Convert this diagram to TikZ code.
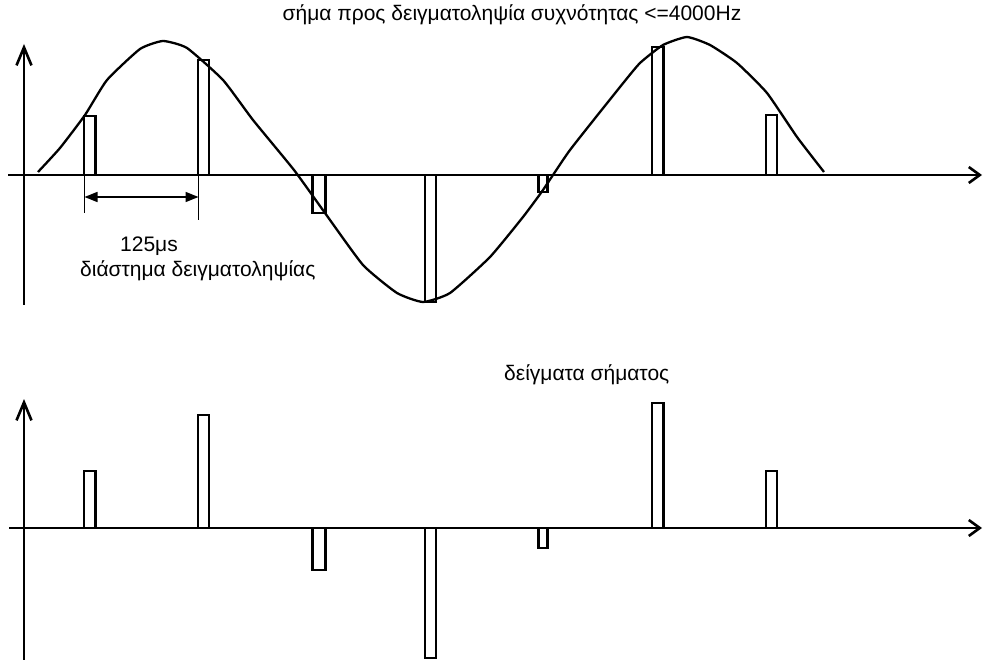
\documentclass[tikz,border=0pt]{standalone}
\usepackage{fontspec}
\setmainfont{Liberation Sans}
\usetikzlibrary{arrows.meta}
\definecolor{cink}{HTML}{000000}

\begin{document}
\begin{tikzpicture}[x=1pt, y=-1pt,
    axh/.style={cink, line width=2.6pt, -{Straight Barb[length=11pt, width=16pt]}},
    axv/.style={cink, line width=2.6pt, -{Straight Barb[length=18pt, width=15pt]}},
    bar/.style={cink, line width=2.3pt},
    wave/.style={cink, line width=2.3pt, line join=round},
    dimln/.style={cink, line width=1.8pt},
    dim/.style={cink, line width=1.6pt, {Triangle[length=13pt, width=10pt]}-{Triangle[length=13pt, width=10pt]}},
    lab/.style={inner sep=0pt, text=cink, font=\fontsize{21}{25}\selectfont}]
  \useasboundingbox (0,0) rectangle (983,660);

  % top: signal to be sampled
  \draw[axh] (8,175) -- (982,175);
  \draw[axv] (24,305) -- (24,44);
  \draw[wave] plot[smooth, tension=0.3] coordinates {
    (38,172) (60,148) (85,115) (107,80) (140,49) (163,41) (187,48) (223,80)
    (253,120) (294,170) (325,213) (363,265) (397,293) (423,302) (450,293)
    (490,257) (523,217) (543,190) (570,150) (620,87) (640,63) (663,45)
    (687,37) (710,45) (737,63) (767,93) (797,137) (824,172)};
  \foreach \xa/\xb/\h in {84/95.5/59, 198/209/115, 312.5/325.5/-38, 425/436/-127,
                          538.5/547.5/-17, 652/663.5/128, 766/777/60}
    \draw[bar] (\xa,175) rectangle (\xb,175-\h);

  \coordinate (e1) at (84.5,213);
  \coordinate (e2) at (198.5,220);
  \coordinate (d1) at (84.5,197);
  \coordinate (d2) at (198.5,197);
  \draw[dimln] (84.5,175) -- (e1);
  \draw[dimln] (198.5,175) -- (e2);
  \draw[dim] (d1) -- (d2);

  \node[lab, anchor=base] (title) at (512,21) {σήμα προς δειγματοληψία συχνότητας <=4000Hz};
  \node[lab, anchor=base west] (per) at (120,252) {125μs};
  \node[lab, anchor=base west] (perlab) at (80,277) {διάστημα δειγματοληψίας};

  % bottom: the samples
  \draw[axh] (9,528) -- (982,528);
  \draw[axv] (24,660) -- (24,399);
  \foreach \xa/\xb/\h in {84/95.5/57, 198/209/113, 312.5/325.5/-42, 425/436/-130,
                          538.5/547.5/-20, 652/663.5/125, 766/777/57}
    \draw[bar] (\xa,528) rectangle (\xb,528-\h);

  \node[lab, anchor=base west] (samp) at (504,381) {δείγματα σήματος};
\end{tikzpicture}
\end{document}
